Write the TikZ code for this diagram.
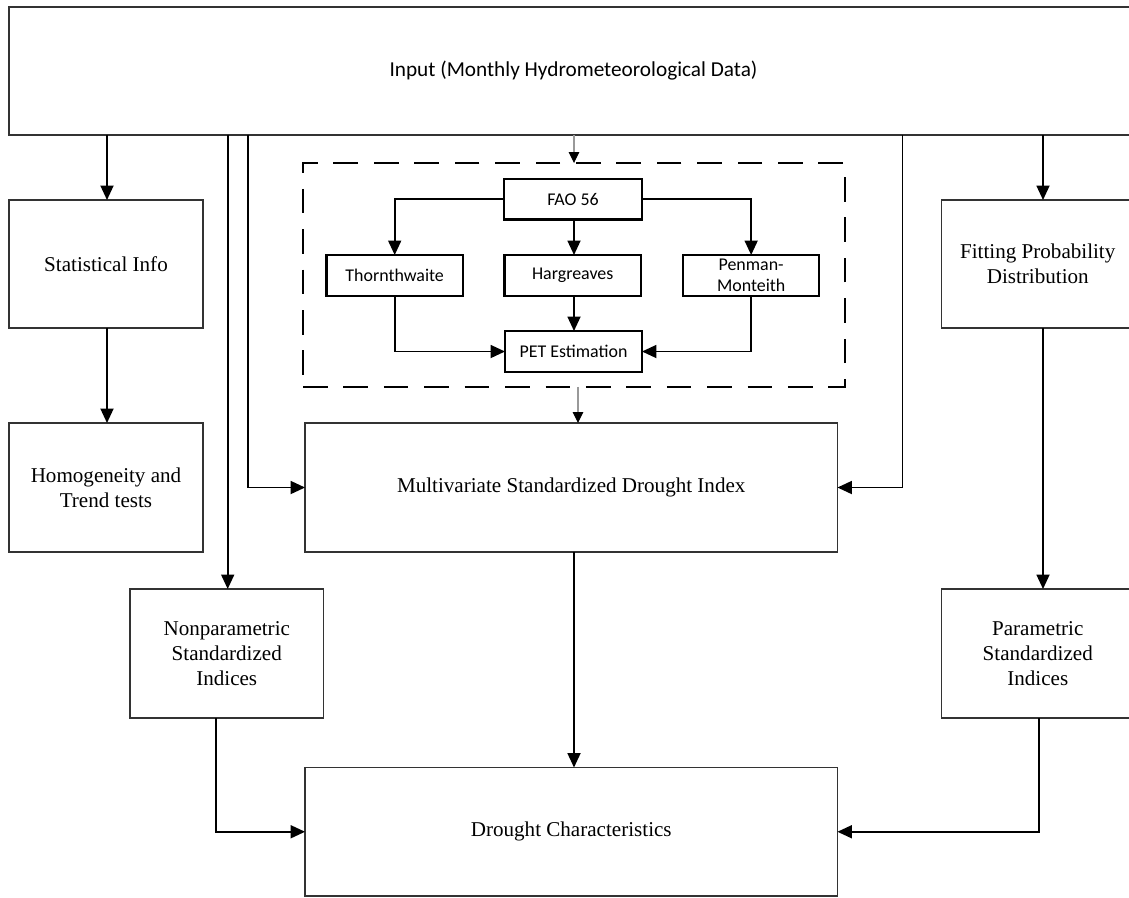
\documentclass[tikz,border=0pt]{standalone}
\usepackage{fontspec}
\setmainfont{Liberation Serif}
\newfontfamily\calib{Carlito}
\usetikzlibrary{arrows.meta}
\begin{document}
\begin{tikzpicture}[x=0.02cm,y=-0.02cm,
  bigbox/.style={draw=black!80, line width=0.85pt, rectangle, inner sep=2pt, outer sep=0pt, align=center, font=\fontsize{12}{14.4}\selectfont},
  smallbox/.style={draw=black, line width=1.2pt, rectangle, inner sep=1pt, outer sep=0pt, align=center, minimum height=0.82cm, minimum width=2.73cm, font=\calib\fontsize{10.2}{11.7}\selectfont},
  groupbox/.style={draw=black, line width=1.3pt, dash pattern=on 14pt off 9pt, rectangle, outer sep=0pt},
  arr/.style={draw=black, line width=1.05pt, -{Triangle[length=0.29cm,width=0.26cm]}},
  thinarr/.style={draw=black!40, line width=0.6pt, -{Triangle[length=0.22cm,width=0.21cm,color=black]}}
]
\useasboundingbox (0,0) rectangle (1129,897);
\fill[white] (0,0) rectangle (1129,897);

% boxes
\node[bigbox, minimum width=22.58cm, minimum height=2.56cm, font=\calib\fontsize{12.1}{14.5}\selectfont] (input) at (573.5,71) {Input (Monthly Hydrometeorological Data)};
\node[bigbox, minimum width=3.88cm, minimum height=2.56cm] (stat) at (106,264) {Statistical Info};
\node[bigbox, minimum width=3.88cm, minimum height=2.58cm] (homog) at (106,487.5) {Homogeneity and\\Trend tests};
\node[bigbox, minimum width=3.87cm, minimum height=2.58cm] (np) at (226.75,653.5) {Nonparametric\\Standardized\\Indices};
\node[bigbox, minimum width=10.65cm, minimum height=2.58cm] (msdi) at (571.25,487.5) {Multivariate Standardized Drought Index};
\node[bigbox, minimum width=10.65cm, minimum height=2.57cm] (dc) at (571.25,831.75) {Drought Characteristics};
\node[bigbox, minimum width=3.85cm, minimum height=2.56cm] (fit) at (1037.75,264) {Fitting Probability\\Distribution};
\node[bigbox, minimum width=3.85cm, minimum height=2.58cm] (par) at (1037.75,653.5) {Parametric\\Standardized\\Indices};

% PET group
\node[groupbox, minimum width=10.84cm, minimum height=4.48cm] (grp) at (574,275) {};
\node[smallbox, minimum width=2.76cm, minimum height=0.81cm] (fao) at (573,199.25) {FAO 56};
\node[smallbox] (thorn) at (394.7,275.5) {Thornthwaite};
\node[smallbox] (harg) at (572.7,275.5) {Hargreaves};
\node[smallbox] (penm) at (751.15,275.5) {Penman-\\Monteith};
\node[smallbox, minimum width=2.74cm] (pet) at (573.5,351.5) {PET Estimation};

% tap coordinates
\coordinate (tapL) at (248,0);
\coordinate (tapM) at (578,0);
\coordinate (tapR) at (902.5,0);
\coordinate (tapF) at (1043,0);
\coordinate (tapC) at (574,0);
\coordinate (tapN) at (216,0);
\coordinate (tapP) at (1039,0);
\coordinate (tapS) at (107,0);
\coordinate (tapI) at (227.7,0);

% connectors
\draw[arr] (input.south -| tapS) -- (stat.north -| tapS);
\draw[arr] (stat.south -| tapS) -- (homog.north -| tapS);
\draw[arr] (input.south -| tapI) -- (np.north -| tapI);
\draw[arr] (input.south -| tapL) |- (msdi.west);
\draw[arr] (input.south -| tapR) |- (msdi.east);
\draw[arr] (input.south -| tapF) -- (fit.north -| tapF);
\draw[arr] (fit.south -| tapF) -- (par.north -| tapF);
\draw[arr] (msdi.south -| tapC) -- (dc.north -| tapC);
\draw[arr] (np.south -| tapN) |- (dc.west);
\draw[arr] (par.south -| tapP) |- (dc.east);
\draw[thinarr] (input.south -| grp.north) -- (grp.north);
\draw[thinarr] (grp.south -| tapM) -- (msdi.north -| tapM);

\draw[arr] (fao.west) -| (thorn.north);
\draw[arr] (fao.south -| tapC) -- (harg.north -| tapC);
\draw[arr] (fao.east) -| (penm.north);
\draw[arr] (thorn.south) |- (pet.west);
\draw[arr] (harg.south -| tapC) -- (pet.north -| tapC);
\draw[arr] (penm.south) |- (pet.east);
\end{tikzpicture}
\end{document}
